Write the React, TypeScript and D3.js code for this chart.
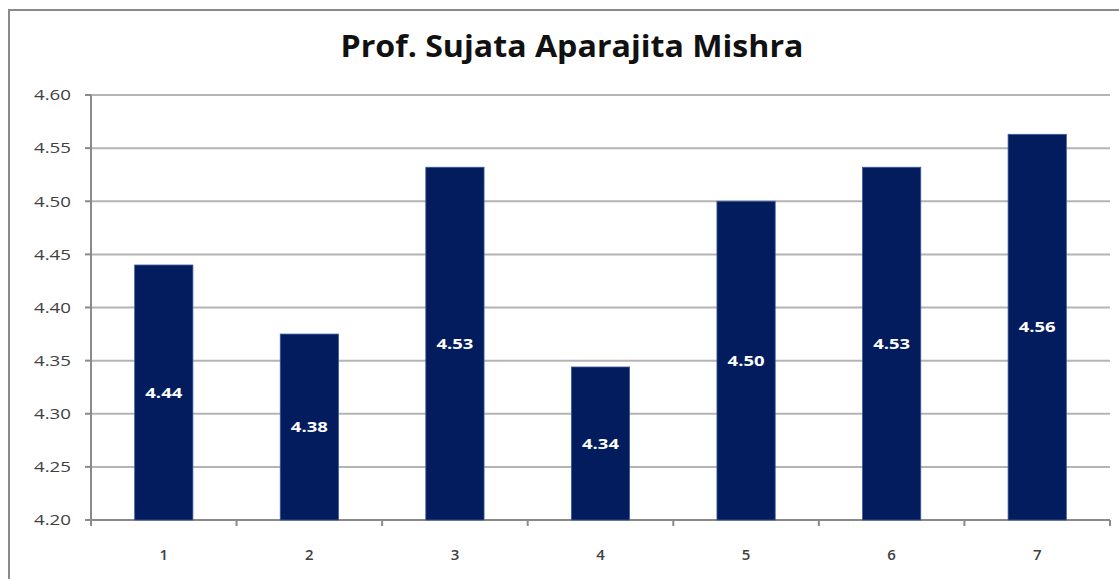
import React from "react";
import * as d3 from "d3";

const categories = ["1", "2", "3", "4", "5", "6", "7"];
const values = [4.44, 4.375, 4.532, 4.344, 4.5, 4.532, 4.563];
const labels = ["4.44", "4.38", "4.53", "4.34", "4.50", "4.53", "4.56"];
const yTicks = [4.2, 4.25, 4.3, 4.35, 4.4, 4.45, 4.5, 4.55, 4.6];
const title = "Prof. Sujata Aparajita Mishra";

export default function App() {
  const W = 1119, H = 579;
  const left = 91, right = 1110, top = 95, bottom = 520;
  const x = d3.scaleBand<string>().domain(categories).range([left, right]).paddingInner(0.6).paddingOuter(0.3);
  const y = d3.scaleLinear().domain([4.2, 4.6]).range([bottom, top]);
  const step = (right - left) / categories.length;
  const font = "'Open Sans', 'Noto Sans', sans-serif";
  return (
    <svg width={W} height={H} style={{ position: "absolute", left: 0, top: 0, background: "#fff" }}>
      <rect x={9} y={10} width={W + 20} height={H + 20} fill="#fff" stroke="#8a8a8a" strokeWidth={2} />
      <text x={572} y={57} textAnchor="middle" fontFamily={font} fontWeight="bold" fontSize={30} fill="#111" textLength={463} lengthAdjust="spacingAndGlyphs">{title}</text>
      {yTicks.map((t) => (
        <g key={t}>
          <line x1={left} x2={right} y1={y(t)} y2={y(t)} stroke="#b4b4b4" strokeWidth={2} />
          <line x1={85} x2={left} y1={y(t)} y2={y(t)} stroke="#8a8a8a" strokeWidth={2} />
          <text x={71} y={y(t)} dy="0.35em" textAnchor="end" fontFamily={font} fontSize={15} fill="#404040" textLength={37} lengthAdjust="spacingAndGlyphs">{t.toFixed(2)}</text>
        </g>
      ))}
      <line x1={left} x2={left} y1={top} y2={bottom} stroke="#8a8a8a" strokeWidth={2} />
      <line x1={left} x2={right} y1={bottom} y2={bottom} stroke="#8a8a8a" strokeWidth={2} />
      {d3.range(categories.length + 1).map((i) => (
        <line key={i} x1={left + i * step} x2={left + i * step} y1={bottom} y2={bottom + 6} stroke="#8a8a8a" strokeWidth={2} />
      ))}
      {categories.map((c, i) => (
        <g key={c}>
          <rect x={x(c)} y={y(values[i])} width={x.bandwidth()} height={bottom - y(values[i])} fill="#021c5e" stroke="#3a5a9a" strokeWidth={0.8} />
          <text x={x(c)! + x.bandwidth() / 2} y={(y(values[i]) + bottom) / 2} dy="0.35em" textAnchor="middle" fontFamily={font} fontWeight="bold" fontSize={15} fill="#fff" textLength={37} lengthAdjust="spacingAndGlyphs">{labels[i]}</text>
          <text x={x(c)! + x.bandwidth() / 2} y={555} dy="0.35em" textAnchor="middle" fontFamily={font} fontWeight="600" fontSize={15} fill="#404040">{c}</text>
        </g>
      ))}
    </svg>
  );
}
